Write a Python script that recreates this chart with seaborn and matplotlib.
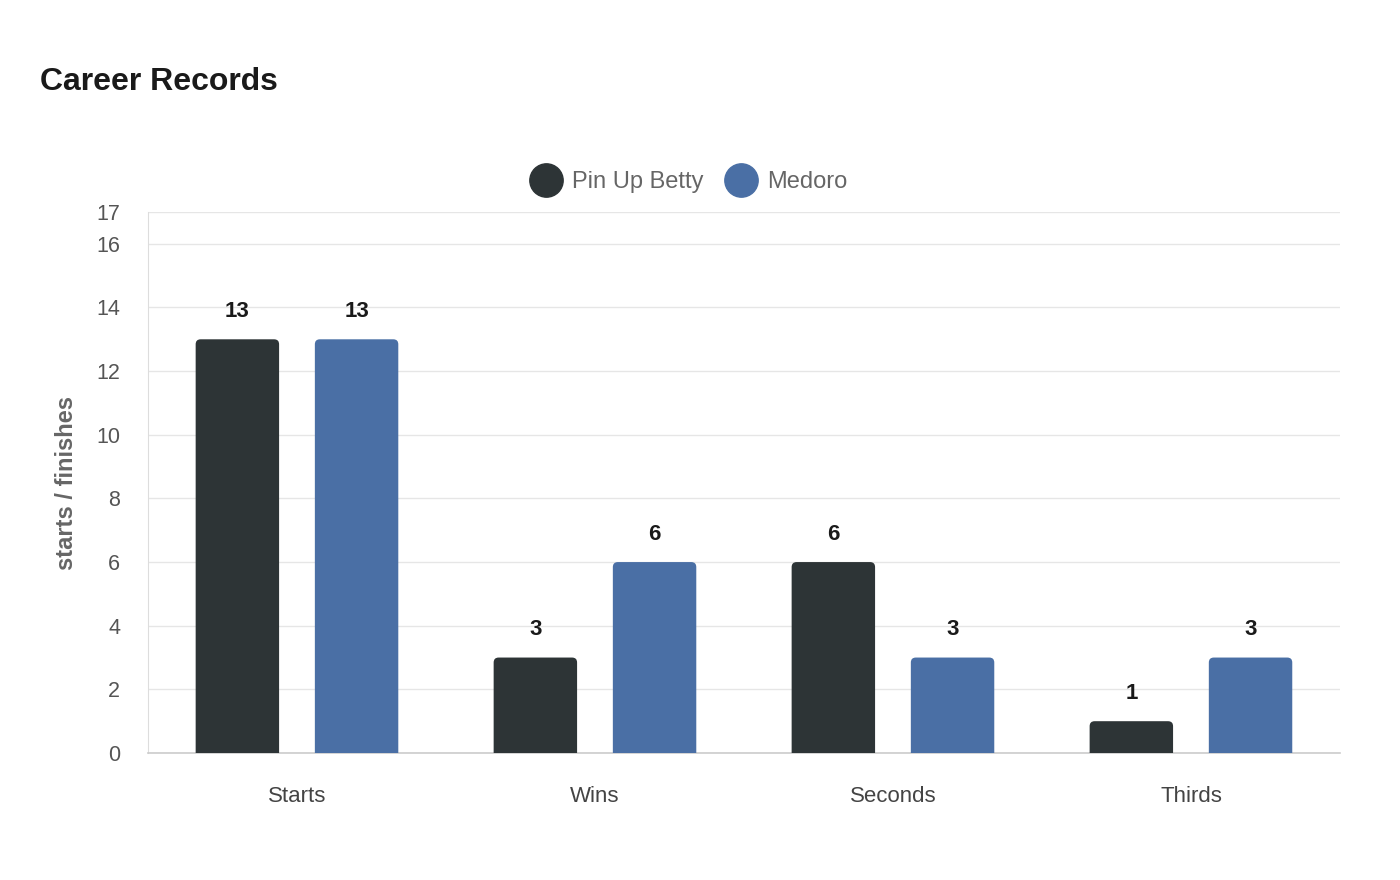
import pandas as pd
import matplotlib.pyplot as plt
import seaborn as sns
from matplotlib.patches import FancyBboxPatch
from matplotlib.lines import Line2D

categories = ['Starts', 'Wins', 'Seconds', 'Thirds']
pin_up_betty = [13, 3, 6, 1]
medoro = [13, 6, 3, 3]
series_names = ['Pin Up Betty', 'Medoro']
colors = ['#2d3436', '#4a6fa5']
y_ticks = [0, 2, 4, 6, 8, 10, 12, 14, 16, 17]

df = pd.DataFrame({
    'category': categories * 2,
    'value': pin_up_betty + medoro,
    'horse': [series_names[0]] * 4 + [series_names[1]] * 4,
})

sns.set_style('white')
plt.rcParams['font.family'] = ['Liberation Sans', 'DejaVu Sans']

fig = plt.figure(figsize=(14, 8.8), dpi=100)
ax = fig.add_axes([0.1057, 0.1443, 0.8514, 0.6148])

sns.barplot(data=df, x='category', y='value', hue='horse', order=categories,
            hue_order=series_names, palette=colors, width=0.8, gap=0.3,
            saturation=1, legend=False, ax=ax)

ax.set_ylim(0, 17)
ax.set_xlim(-0.5, len(categories) - 0.5)

# swap the bars for round-topped versions
r = 0.0168
aspect = 9.35
bars = list(ax.patches)
for bar in bars:
    x, w, h = bar.get_x(), bar.get_width(), bar.get_height()
    fc = bar.get_facecolor()
    bar.remove()
    p = FancyBboxPatch((x, -r * aspect * 2), w, h + r * aspect * 2,
                       boxstyle=f'round,pad=0,rounding_size={r}',
                       mutation_aspect=aspect, facecolor=fc, edgecolor='none',
                       zorder=3)
    ax.add_patch(p)
    ax.text(x + w / 2, h + 0.55, f'{int(h)}', ha='center', va='bottom',
            fontsize=16, fontweight='bold', color='#1a1a1a')

ax.set_yticks(y_ticks)
ax.yaxis.grid(True, color='#e6e6e6', linewidth=1)
ax.set_axisbelow(True)
for s in ['top', 'right']:
    ax.spines[s].set_visible(False)
ax.spines['left'].set_color('#dddddd')
ax.spines['left'].set_linestyle((0, (1, 1)))
ax.spines['bottom'].set_color('#cccccc')
ax.spines['bottom'].set_linewidth(1.2)
ax.tick_params(axis='y', length=0, labelsize=15.5, labelcolor='#555555', pad=20)
ax.tick_params(axis='x', length=0, labelsize=16, labelcolor='#444444', pad=24)
ax.set_xlabel('')
ax.set_ylabel('starts / finishes', fontsize=17, fontweight='bold', color='#666666',
              labelpad=13)

handles = [Line2D([0], [0], marker='o', linestyle='', markersize=24,
                  markerfacecolor=c, markeredgecolor=c) for c in colors]
fig.legend(handles, series_names, loc='center', bbox_to_anchor=(0.489, 0.793),
           ncol=2, frameon=False, fontsize=17, labelcolor='#666666',
           handletextpad=0.1, columnspacing=0.6)

fig.text(0.0286, 0.907, 'Career Records', fontsize=23, fontweight='bold',
         color='#1a1a1a', va='center', ha='left')

fig.savefig('out.png', dpi=100)
